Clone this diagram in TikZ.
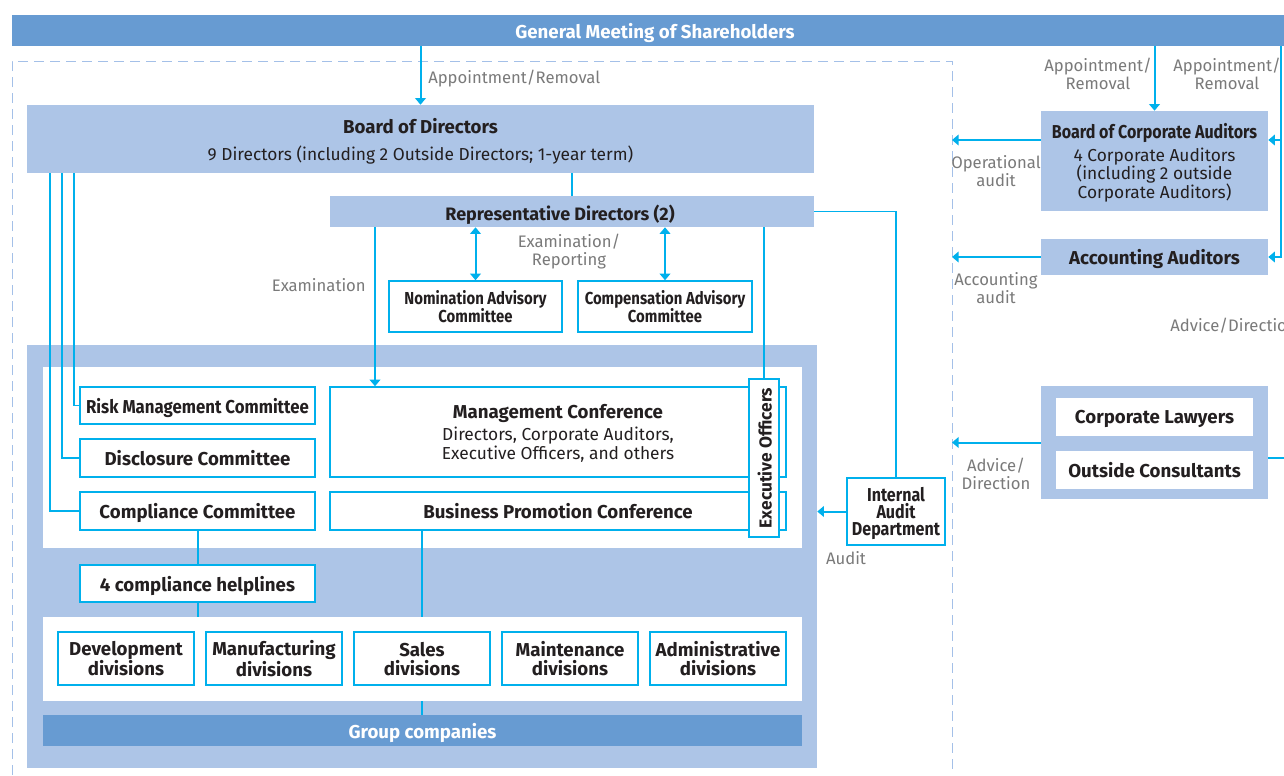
\documentclass[tikz,border=0pt]{standalone}
\usepackage{fontspec}
\setmainfont{Fira Sans}
\newfontfamily\condfont[FakeStretch=0.86]{Fira Sans}
\newfontfamily\riskfont[FakeStretch=0.9]{Fira Sans}
\usetikzlibrary{arrows.meta,calc}
\definecolor{lblue}{HTML}{ADC5E7}
\definecolor{mblue}{HTML}{679BD2}
\definecolor{cyanl}{HTML}{00B0EC}
\definecolor{graytx}{HTML}{7A7A7A}
\definecolor{darktx}{HTML}{231F20}
\definecolor{dashc}{HTML}{A4C0E8}
\newcommand{\titlefont}{\bfseries\fontsize{14}{14.25}\selectfont}
\newcommand{\bodyfont}{\fontsize{13}{14.25}\selectfont}
\tikzset{
  px/.style n args={4}{minimum width={(#3-#1)*0.75pt}, minimum height={(#4-#2)*0.75pt},
    at={({(#1+#3)/2},{(#2+#4)/2})}},
  box/.style={draw=cyanl, line width=1.1pt, fill=white, inner sep=0pt, text=darktx,
    font=\titlefont, align=center, text depth=0pt},
  condbox/.style={box, font=\condfont\bfseries\fontsize{13}{13.5}\selectfont},
  band/.style={fill=lblue, inner sep=0pt, text=darktx, align=center, font=\bodyfont, text depth=0pt},
  darkband/.style={fill=mblue, inner sep=0pt, text=white, font=\titlefont, text depth=0pt},
  panel/.style={fill=white, inner sep=0pt},
  conn/.style={draw=cyanl, line width=1.5pt},
  thinconn/.style={draw=cyanl, line width=1.1pt},
  arr/.style={conn, -{Triangle[length=5pt,width=8pt]}},
  darr/.style={conn, {Triangle[length=5pt,width=8pt]}-{Triangle[length=5pt,width=8pt]}},
  lbl/.style={text=graytx, font=\fontsize{12.5}{13.5}\selectfont, align=center, inner sep=0pt},
  dashedframe/.style={draw=dashc, line width=0.75pt, dash pattern=on 7.5pt off 4.5pt},
}
\begin{document}
\begin{tikzpicture}[x=0.75pt,y=-0.75pt]
\useasboundingbox (0,0) rectangle (1284,775);
\fill[white] (0,0) rectangle (1284,775);

% dashed frame
\coordinate (dr) at (952,61);
\coordinate (dl) at (12,61);
\draw[dashedframe] (12,775) -- (dl) -- (dr) -- (952,775);

% top bar
\node[darkband, px={12}{15}{1290}{46}] (gm) {};
\node[text=white, font=\titlefont, inner sep=0pt, text depth=0pt] (gmt) at (655,31) {General Meeting of Shareholders};

% Board of Directors
\node[band, px={27}{105}{814}{173}]
  (board) {{\titlefont Board of Directors}\\[6pt]9 Directors (including 2 Outside Directors; 1-year term)};

% Representative Directors
\node[band, px={330}{196}{814}{227}] (rep) {};
\node[text=darktx, font=\bfseries\fontsize{13.5}{14}\selectfont, inner sep=0pt, text depth=0pt] (rept) at (560,213) {Representative Directors (2)};

% advisory committees
\node[condbox, px={389}{281}{562}{332}] (nom) {Nomination Advisory\\Committee};
\node[condbox, px={578}{281}{752}{332}] (compa) {Compensation Advisory\\Committee};

% big container
\node[band, px={27}{345}{817}{768}] (cont) {};
\node[panel, px={43}{367}{802}{548}] (panel1) {};
\node[panel, px={43}{617}{802}{701}] (panel2) {};
\node[darkband, px={43}{715}{802}{746}] (group) {Group companies};

% committees
\node[box, px={80}{387}{315}{424}, font=\riskfont\bfseries\fontsize{14}{14.25}\selectfont] (risk) {Risk Management Committee};
\node[box, px={80}{439}{315}{477}] (disc) {Disclosure Committee};
\node[box, px={80}{492}{315}{530}] (comp) {Compliance Committee};
\node[box, px={80}{565}{315}{602}] (help) {4 compliance helplines};

\node[box, px={330}{387}{786}{477}, font=\bodyfont] (mgmt)
  {{\titlefont Management Conference}\\[2pt]Directors, Corporate Auditors,\\Executive Officers, and others};
\node[box, px={330}{492}{786}{530}] (bpc) {Business Promotion Conference};

\node[box, px={749}{379}{779}{537}] (exec) {};
\node[rotate=90, text=darktx, font=\bfseries\fontsize{13}{13}\selectfont, inner sep=0pt, text depth=0pt] (exect) at (764.5,458) {Executive Officers};

% divisions
\node[box, px={58}{632}{194}{685}] (dev) {Development\\divisions};
\node[box, px={206}{632}{342}{685}] (manu) {Manufacturing\\divisions};
\node[box, px={354}{632}{490}{685}] (sales) {Sales\\divisions};
\node[box, px={502}{632}{638}{685}] (main) {Maintenance\\divisions};
\node[box, px={650}{632}{786}{685}] (admin) {Administrative\\divisions};

% internal audit
\node[box, px={847}{478}{945}{545}, font=\condfont\bfseries\fontsize{14}{12.75}\selectfont] (iad) {Internal\\Audit\\Department};

% right side
\node[band, px={1041}{111}{1268}{211}, font=\fontsize{13}{13.9}\selectfont] (boca)
  {{\condfont\bfseries\fontsize{14}{14}\selectfont Board of Corporate Auditors}\\[3pt]4 Corporate Auditors\\(including 2 outside\\Corporate Auditors)};
\node[band, px={1041}{239}{1268}{275}, font=\titlefont] (acc) {Accounting Auditors};
\node[band, px={1041}{386}{1268}{499}] (law) {};
\node[box, draw=none, px={1056}{398}{1253}{436}] (lawy) {Corporate Lawyers};
\node[box, draw=none, px={1056}{451}{1253}{489}] (cons) {Outside Consultants};

% coordinates
\coordinate (c1) at (74,0);
\coordinate (c2) at (62,0);
\coordinate (c3) at (50,0);
\coordinate (exam) at (375,0);
\coordinate (rx) at (1281,0);
\coordinate (rb) at (1281,140);
\coordinate (lr) at (1284,458);

% connectors
\draw[arr] (gm.south -| board.north) -- (board.north);
\draw[conn] (board.south -| rep.north) -- (rep.north);
\draw[thinconn] (board.south -| c1) |- (risk.west);
\draw[thinconn] (board.south -| c2) |- (disc.west);
\draw[thinconn] (board.south -| c3) |- (comp.west);
\draw[darr] (rep.south -| nom.north) -- (nom.north);
\draw[darr] (rep.south -| compa.north) -- (compa.north);
\draw[arr] (rep.south -| exam) -- (mgmt.north -| exam);
\draw[conn] (rep.south -| exec.north) -- (exec.north);
\draw[thinconn] (rep.east) -| (iad.north);
\draw[arr] (iad.west) -- (iad.west -| cont.east);
\draw[conn] (comp.south) -- (help.north);
\draw[conn] (help.south) -- (help.south |- panel2.north);
\draw[conn] (bpc.south -| sales.north) -- (panel2.north -| sales.north);
\draw[conn] (panel2.south -| sales.north) -- (group.north -| sales.north);

\draw[arr] (gm.south -| boca.north) -- (boca.north);
\draw[arr] (gm.south -| rx) |- (acc.east);
\draw[arr] (rb) -- (rb -| boca.east);
\draw[arr] (rb -| boca.west) -- (rb -| dr);
\draw[arr] (acc.west) -- (acc.west -| dr);
\draw[arr] (law.west) -- (law.west -| dr);
\draw[thinconn] (lr -| law.east) -- (lr);

% labels
\node[lbl, anchor=west] (l1) at (428,79) {Appointment/Removal};
\node[lbl, anchor=east] (l2) at (366,285) {Examination};
\node[lbl] (l3) at (569,252) {Examination/\\Reporting};
\node[lbl] (l4) at (1098,74) {Appointment/\\Removal};
\node[lbl] (l5) at (1227,74) {Appointment/\\Removal};
\node[lbl] (l6) at (996,171) {Operational\\audit};
\node[lbl] (l7) at (996,288) {Accounting\\audit};
\node[lbl] (l8) at (996,474) {Advice/\\Direction};
\node[lbl, anchor=west] (l9) at (1170,326) {Advice/Direction};
\node[lbl] (l10) at (846,558) {Audit};
\end{tikzpicture}
\end{document}
